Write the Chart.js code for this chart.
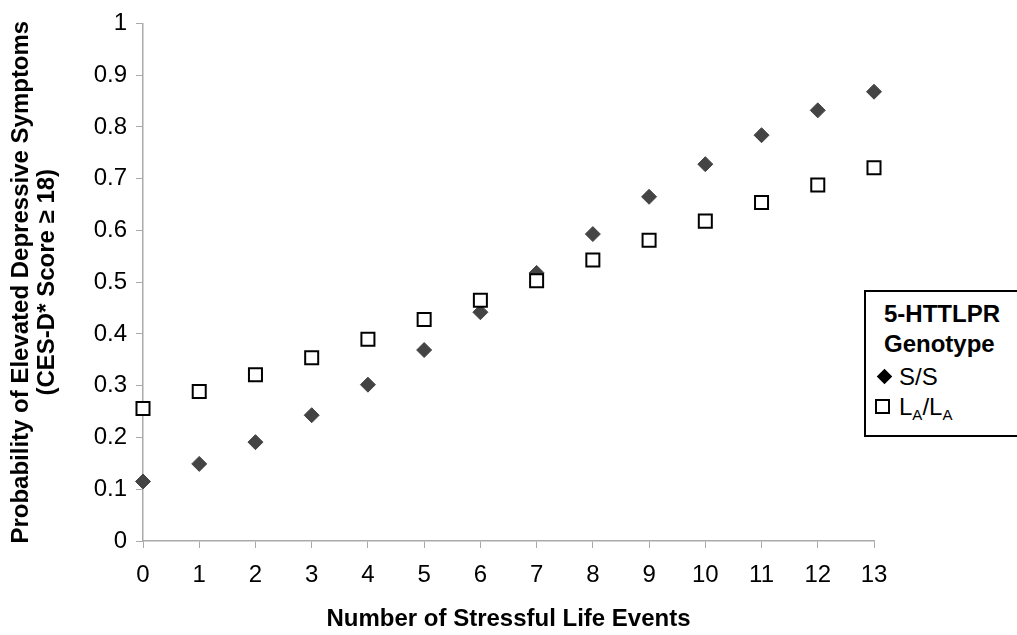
<!DOCTYPE html>
<html>
<head>
<meta charset="utf-8">
<script src="https://cdn.jsdelivr.net/npm/chart.js@4.4.0/dist/chart.umd.min.js"></script>
<style>
	html, body { margin: 0; padding: 0; background: #fff; }
	#wrap { position: relative; width: 1017px; height: 635px; overflow: hidden; }
	#legendBox {
		position: absolute; left: 864px; top: 290px; width: 160px; height: 147px;
		border: 2px solid #000; background: #fff; box-sizing: border-box;
		font-family: "Liberation Sans", Arial, sans-serif; color: #000;
	}
	#legendBox div { position: absolute; white-space: nowrap; }
	#legendBox .head { font-weight: bold; font-size: 24px; left: 18px; }
	#legendBox .item { font-size: 24px; left: 33px; }
	#legendBox sub { font-size: 15px; vertical-align: -5px; }
	#legendBox .diamond { width: 11px; height: 11px; background: #000; transform: rotate(45deg); left: 13px; }
	#legendBox .square { width: 11px; height: 11px; border: 2px solid #000; left: 9px; }
</style>
</head>
<body>
<div id="wrap">
	<canvas id="chart" width="1017" height="635"></canvas>
	<div id="legendBox">
		<div class="head" style="top:8px">5-HTTLPR</div>
		<div class="head" style="top:38px">Genotype</div>
		<div class="diamond" style="top:79px"></div>
		<div class="item" style="top:71px">S/S</div>
		<div class="square" style="top:107px"></div>
		<div class="item" style="top:101px">L<sub>A</sub>/L<sub>A</sub></div>
	</div>
</div>
<script>
/* Values */
var lifeEvents = [0, 1, 2, 3, 4, 5, 6, 7, 8, 9, 10, 11, 12, 13];
var ssValues = [0.115, 0.149, 0.191, 0.243, 0.302, 0.369, 0.442, 0.518, 0.593, 0.665, 0.728, 0.784, 0.832, 0.868];
var lalaValues = [0.256, 0.289, 0.321, 0.354, 0.390, 0.428, 0.465, 0.503, 0.543, 0.581, 0.618, 0.654, 0.688, 0.721];
var yTitle = ['Probability of Elevated Depressive Symptoms', '(CES-D* Score \u2265 18)'];
var xTitle = 'Number of Stressful Life Events';

function toPoints(xs, ys) {
	var pts = [];
	for (var i = 0; i < xs.length; i++) {
		pts.push({x: xs[i], y: ys[i]});
	}
	return pts;
}

const ctx = document.getElementById('chart').getContext('2d');
const fontFamily = '"Liberation Sans", Arial, sans-serif';

let chart1 = new Chart(ctx, {
	type: 'scatter',
	data: {
		datasets: [
			{
			label: 'LA/LA',
			pointStyle: 'rect',
			pointRadius: 9.2,
			pointHoverRadius: 9.2,
			backgroundColor: '#fff',
			borderColor: '#000',
			pointBorderWidth: 2,
			clip: false,
			data: toPoints(lifeEvents, lalaValues)},
			{
			label: 'S/S',
			pointStyle: 'rectRot',
			pointRadius: 7.5,
			pointHoverRadius: 7.5,
			backgroundColor: '#444',
			borderColor: '#444',
			pointBorderWidth: 1,
			clip: false,
			data: toPoints(lifeEvents, ssValues)}
		]
	},
	options: {
		responsive: false,
		animation: false,
		layout: {
			padding: { left: 8, right: 143, top: 18, bottom: 0 }
		},
		plugins: {
			legend: { display: false },
			tooltip: { enabled: false }
		},
		scales: {
			x: {
				type: 'linear',
				min: 0,
				max: 13,
				afterFit: function(scale) { scale.height = 94; },
				border: { color: '#aaa', width: 1.5 },
				grid: { drawOnChartArea: false, drawTicks: true, tickLength: 7, color: '#aaa' },
				ticks: { stepSize: 1, color: '#000', font: { family: fontFamily, size: 24 }, padding: 13 },
				title: { display: true, text: xTitle, color: '#000',
				         font: { family: fontFamily, size: 24, weight: 'bold' }, padding: { top: 0, bottom: 1 } }
			},
			y: {
				min: 0,
				max: 1,
				afterFit: function(scale) { scale.width = 135; },
				border: { color: '#aaa', width: 1.5 },
				grid: { drawOnChartArea: false, drawTicks: true, tickLength: 7, color: '#aaa' },
				ticks: {
					stepSize: 0.1,
					color: '#000',
					font: { family: fontFamily, size: 24 },
					padding: 9,
					callback: function(v) { return String(Math.round(v * 10) / 10); }
				},
				title: { display: true, text: yTitle, color: '#000',
				         font: { family: fontFamily, size: 24, weight: 'bold', lineHeight: 1.1 }, padding: { top: 0, bottom: 0 } }
			}
		}
	}
});
</script>
</body>
</html>
